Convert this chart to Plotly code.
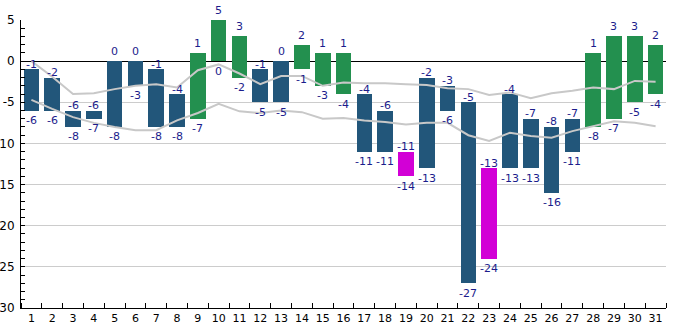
import plotly.graph_objects as go

days = list(range(1, 32))
day_max = [-1, -2, -6, -6, 0, 0, -1, -4, 1, 5, 3, -1, 0, 2, 1, 1,
           -4, -6, -11, -2, -3, -5, -13, -4, -7, -8, -7, 1, 3, 3, 2]
day_min = [-6, -6, -8, -7, -8, -3, -8, -8, -7, 0, -2, -5, -5, -1, -3, -4,
           -11, -11, -14, -13, -6, -27, -24, -13, -13, -16, -11, -8, -7, -5, -4]
norm_max = [0.0, -1.9, -4.0, -3.9, -3.4, -3.0, -2.8, -3.2, -1.1, -0.4, -1.5,
            -2.8, -1.8, -1.8, -3.0, -2.6, -2.7, -2.7, -2.8, -2.9, -3.3,
            -3.4, -4.1, -3.8, -4.5, -3.9, -3.6, -3.2, -3.4, -2.4, -2.5]
norm_min = [-4.7, -5.8, -6.8, -7.5, -8.0, -8.4, -8.4, -7.2, -6.3, -5.2, -6.1,
            -6.3, -6.0, -6.2, -7.0, -6.9, -7.2, -7.4, -7.7, -7.5, -7.5,
            -9.0, -9.7, -8.7, -9.1, -9.3, -8.5, -7.9, -7.3, -7.5, -7.9]
y_ticks = [5, 0, -5, -10, -15, -20, -25, -30]

BLUE = "#22567a"
GREEN = "#23904f"
MAGENTA = "#d200d6"
LABEL = "#1c1c8c"
FONT = "DejaVu Sans"


def bar_colour(hi):
    if hi > 0:
        return GREEN
    if hi <= -10:
        return MAGENTA
    return BLUE


fig = go.Figure()

# daily range as floating bars (min -> max)
fig.add_trace(go.Bar(
    x=days,
    y=[hi - lo for hi, lo in zip(day_max, day_min)],
    base=day_min,
    width=0.75,
    marker=dict(color=[bar_colour(h) for h in day_max], line=dict(width=0)),
    hoverinfo="skip",
))

# normal max / min curves on top of the bars
for series in (norm_max, norm_min):
    fig.add_trace(go.Scatter(
        x=days, y=series, mode="lines",
        line=dict(color="#c8c8c8", width=2),
        hoverinfo="skip",
    ))

annotations = []
for d, hi, lo in zip(days, day_max, day_min):
    annotations.append(dict(
        x=d, y=hi, text=str(hi), showarrow=False, xanchor="center",
        yanchor="bottom", yshift=1 if hi >= 0 else -3.5,
        font=dict(family=FONT, size=11, color=LABEL),
    ))
    annotations.append(dict(
        x=d, y=lo, text=str(lo), showarrow=False, xanchor="center",
        yanchor="top", yshift=-1.5,
        font=dict(family=FONT, size=11, color=LABEL),
    ))

fig.update_layout(
    width=685, height=330,
    margin=dict(l=21, r=19, t=20, b=22, autoexpand=False),
    paper_bgcolor="white", plot_bgcolor="white",
    showlegend=False,
    bargap=0,
    font=dict(family=FONT, size=11, color="black"),
    annotations=annotations,
)

fig.update_xaxes(
    range=[0.5, 31.5],
    tickvals=days, ticktext=[str(d) for d in days],
    ticks="", showgrid=False, zeroline=False,
    showline=True, linecolor="black", linewidth=1,
    tickfont=dict(family=FONT, size=11, color="black"),
    ticklabelstandoff=0,
    minor=dict(tick0=0.5, dtick=1, ticks="inside", ticklen=5,
               tickcolor="black", showgrid=False),
    automargin=False,
)

fig.update_yaxes(
    range=[-30, 5],
    tickvals=y_ticks, ticktext=[str(v) for v in y_ticks],
    ticks="inside", ticklen=4, tickcolor="black",
    showgrid=True, gridcolor="#cccccc", gridwidth=1,
    zeroline=True, zerolinecolor="black", zerolinewidth=1,
    showline=True, linecolor="black", linewidth=1,
    tickfont=dict(family=FONT, size=12, color="black"),
    ticklabelstandoff=3,
    minor=dict(dtick=1, ticks="inside", ticklen=4, tickcolor="black",
               showgrid=False),
    automargin=False,
)

fig.write_html("out.html")
